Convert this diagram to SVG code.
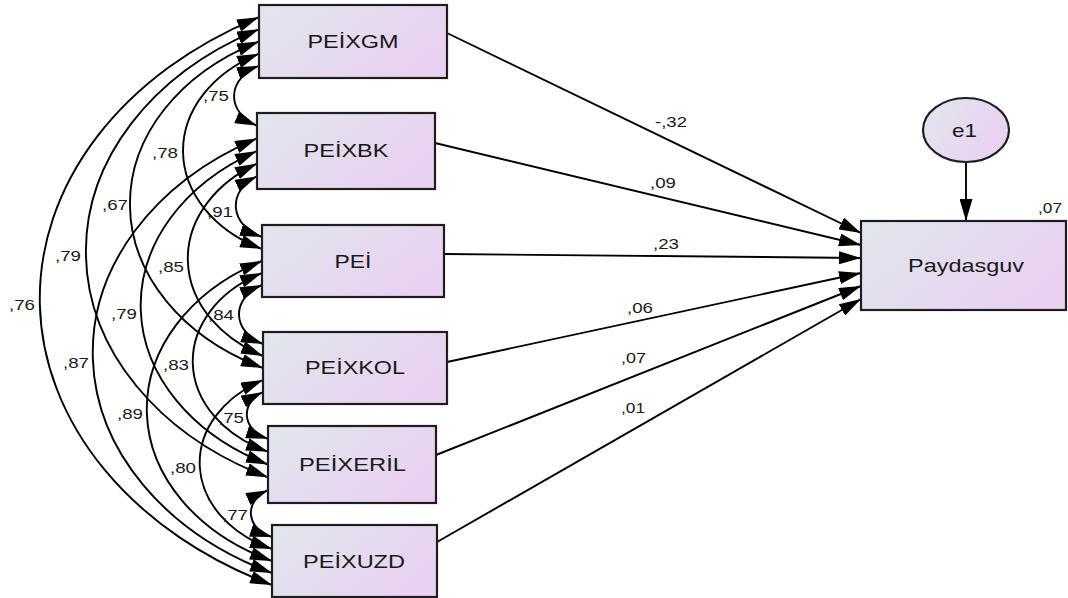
<svg xmlns="http://www.w3.org/2000/svg" width="1068" height="598" viewBox="0 0 1068 598">
<defs>
<linearGradient id="fillg" x1="0" y1="0" x2="1" y2="0.5">
<stop offset="0" stop-color="#e1e7ec"/>
<stop offset="1" stop-color="#e9d1f2"/>
</linearGradient>
<marker id="ah" viewBox="0 0 22 13" refX="22" refY="6.5" markerWidth="22" markerHeight="13" markerUnits="userSpaceOnUse" orient="auto-start-reverse">
<path d="M0,0 L22,6.5 L0,13 z" fill="#000"/>
</marker>
</defs>
<style>
.box{fill:url(#fillg);stroke:#1e1e1e;stroke-width:2.2}
.nt{font-family:"Liberation Sans",Arial,sans-serif;font-size:18.5px;fill:#1a1a1a;text-anchor:middle}
.lb{font-family:"Liberation Sans",Arial,sans-serif;font-size:14.5px;fill:#1a1a1a}
.arc{fill:none;stroke:#000;stroke-width:1.9;marker-start:url(#ah);marker-end:url(#ah)}
.ln{fill:none;stroke:#000;stroke-width:1.9;marker-end:url(#ah)}
</style>
<rect width="1068" height="598" fill="#fff"/>
<g id="connectors">
<path class="arc" d="M259,65.8 A43.7,33.6 0 0 0 257,125.7"/>
<path class="arc" d="M259,53.7 A142.7,109.8 0 0 0 262,249"/>
<path class="arc" d="M259,41.5 A237.4,182.6 0 0 0 263,368"/>
<path class="arc" d="M259,29.3 A327.6,252 0 0 0 268,477.3"/>
<path class="arc" d="M259,17.2 A414.7,319 0 0 0 272,585"/>
<path class="arc" d="M257,176.3 A44.8,34.5 0 0 0 262,237"/>
<path class="arc" d="M257,163.7 A144.5,111.1 0 0 0 263,356"/>
<path class="arc" d="M257,151 A231.6,178.1 0 0 0 268,464.5"/>
<path class="arc" d="M257,138.3 A318.5,245 0 0 0 272,573"/>
<path class="arc" d="M262,285 A43,33.1 0 0 0 263,344"/>
<path class="arc" d="M262,273 A129.7,99.7 0 0 0 268,451.7"/>
<path class="arc" d="M262,261 A218.4,168 0 0 0 272,561"/>
<path class="arc" d="M263,392 A34.3,26.4 0 0 0 268,438.8"/>
<path class="arc" d="M263,380 A123.2,94.7 0 0 0 272,549"/>
<path class="arc" d="M268,490.2 A33.9,26.05 0 0 0 272,537"/>
<path class="ln" d="M447,33 L861,233"/>
<path class="ln" d="M435,143 L861,245"/>
<path class="ln" d="M444,254 L861,258"/>
<path class="ln" d="M447,362 L861,273"/>
<path class="ln" d="M436,455 L861,286"/>
<path class="ln" d="M437,542 L861,299"/>
<path class="ln" d="M966,162 L966,221"/>
<text class="lb" x="203" y="101" textLength="26" lengthAdjust="spacingAndGlyphs">,75</text>
<text class="lb" x="152" y="158" textLength="26" lengthAdjust="spacingAndGlyphs">,78</text>
<text class="lb" x="102" y="210" textLength="26" lengthAdjust="spacingAndGlyphs">,67</text>
<text class="lb" x="55" y="261" textLength="26" lengthAdjust="spacingAndGlyphs">,79</text>
<text class="lb" x="9" y="310" textLength="26" lengthAdjust="spacingAndGlyphs">,76</text>
<text class="lb" x="207" y="217" textLength="26" lengthAdjust="spacingAndGlyphs">,91</text>
<text class="lb" x="158" y="272" textLength="26" lengthAdjust="spacingAndGlyphs">,85</text>
<text class="lb" x="111" y="319" textLength="26" lengthAdjust="spacingAndGlyphs">,79</text>
<text class="lb" x="208" y="320" textLength="26" lengthAdjust="spacingAndGlyphs">,84</text>
<text class="lb" x="63" y="368" textLength="26" lengthAdjust="spacingAndGlyphs">,87</text>
<text class="lb" x="163" y="370" textLength="26" lengthAdjust="spacingAndGlyphs">,83</text>
<text class="lb" x="117" y="419" textLength="26" lengthAdjust="spacingAndGlyphs">,89</text>
<text class="lb" x="218" y="423" textLength="26" lengthAdjust="spacingAndGlyphs">,75</text>
<text class="lb" x="170" y="473" textLength="26" lengthAdjust="spacingAndGlyphs">,80</text>
<text class="lb" x="222" y="520" textLength="26" lengthAdjust="spacingAndGlyphs">,77</text>
<text class="lb" x="655" y="127" textLength="32" lengthAdjust="spacingAndGlyphs">-,32</text>
<text class="lb" x="650" y="188" textLength="26" lengthAdjust="spacingAndGlyphs">,09</text>
<text class="lb" x="653" y="249" textLength="26" lengthAdjust="spacingAndGlyphs">,23</text>
<text class="lb" x="627" y="313" textLength="26" lengthAdjust="spacingAndGlyphs">,06</text>
<text class="lb" x="621" y="363" textLength="25" lengthAdjust="spacingAndGlyphs">,07</text>
<text class="lb" x="621" y="413" textLength="24" lengthAdjust="spacingAndGlyphs">,01</text>
</g>
<g id="PEIXGM"><rect class="box" x="259" y="5" width="188" height="73"/><text class="nt" x="353" y="48" textLength="91" lengthAdjust="spacingAndGlyphs">PEİXGM</text></g>
<g id="PEIXBK"><rect class="box" x="257" y="113" width="178" height="76"/><text class="nt" x="346" y="157" textLength="85" lengthAdjust="spacingAndGlyphs">PEİXBK</text></g>
<g id="PEI"><rect class="box" x="262" y="225" width="182" height="72"/><text class="nt" x="353" y="268" textLength="37" lengthAdjust="spacingAndGlyphs">PEİ</text></g>
<g id="PEIXKOL"><rect class="box" x="263" y="332" width="184" height="72"/><text class="nt" x="355" y="374" textLength="100" lengthAdjust="spacingAndGlyphs">PEİXKOL</text></g>
<g id="PEIXERIL"><rect class="box" x="268" y="426" width="168" height="77"/><text class="nt" x="352.5" y="471" textLength="107" lengthAdjust="spacingAndGlyphs">PEİXERİL</text></g>
<g id="PEIXUZD"><rect class="box" x="272" y="525" width="165" height="72"/><text class="nt" x="354" y="568" textLength="102" lengthAdjust="spacingAndGlyphs">PEİXUZD</text></g>
<g id="Paydasguv"><rect class="box" x="861" y="221" width="205" height="89"/><text class="nt" x="966" y="272" textLength="116" lengthAdjust="spacingAndGlyphs">Paydasguv</text><text class="lb" x="1038" y="213" textLength="24" lengthAdjust="spacingAndGlyphs">,07</text></g>
<g id="e1"><ellipse class="box" cx="966" cy="130" rx="43" ry="32"/><text class="nt" x="964.5" y="137" textLength="25" lengthAdjust="spacingAndGlyphs">e1</text></g>
</svg>
